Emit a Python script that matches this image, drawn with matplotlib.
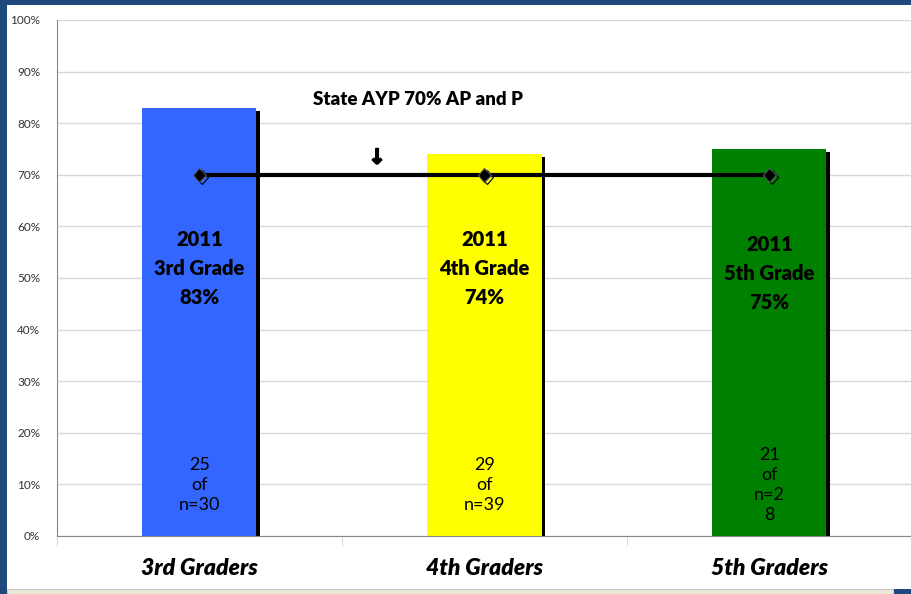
import matplotlib
matplotlib.use('Agg')
import matplotlib.pyplot as plt
import matplotlib.patches as mpatches
import matplotlib.patheffects as pe

plt.rcParams['font.family'] = ['Lato', 'DejaVu Sans']

# Data
categories = ['3rd Graders', '4th Graders', '5th Graders']
values = [83, 74, 75]
bar_colors = ['#3366FF', '#FFFF00', '#008000']
grade_labels = ['2011\n3rd Grade\n83%', '2011\n4th Grade\n74%', '2011\n5th Grade\n75%']
count_labels = ['25\nof\nn=30', '29\nof\nn=39', '21\nof\nn=2\n8']
label_y = [51.8, 51.8, 50.8]
ayp_target = [70, 70, 70]

W, H = 912, 594
fig = plt.figure(figsize=(W / 100, H / 100), dpi=100, facecolor='#1F497D')

# white slide panel + grey bottom strip
fig.patches.append(mpatches.Rectangle((7 / W, 5 / H), 1 - 7 / W, (589 - 5) / H,
                                      transform=fig.transFigure, facecolor='white',
                                      edgecolor='none', zorder=-2))
fig.patches.append(mpatches.Rectangle((7 / W, 0), (893 - 7) / W, 5 / H,
                                      transform=fig.transFigure, facecolor='#ECE9D8',
                                      edgecolor='#C8C8C8', linewidth=0.8, zorder=-2))

ax = fig.add_axes([57 / W, 58 / H, (W - 57) / W, (536 - 20) / H])
ax.set_facecolor('none')
ax.set_zorder(1)

x = list(range(len(categories)))
shadow = [pe.SimplePatchShadow(offset=(2.2, -2.2), shadow_rgbFace='black', alpha=1.0), pe.Normal()]
bars = ax.bar(x, values, width=0.4, color=bar_colors, zorder=2)
for b in bars:
    b.set_path_effects(shadow)

# AYP line
mshadow = [pe.SimpleLineShadow(offset=(1.5, -1.5), shadow_color='black', alpha=1.0), pe.Normal()]
ax.plot(x, ayp_target, color='black', linewidth=3, zorder=3)
ax.plot(x, ayp_target, linestyle='none', marker='D', markersize=7,
        markerfacecolor='black', markeredgecolor='#555566', markeredgewidth=0.8,
        zorder=4, path_effects=mshadow)

for xi, lab, cnt, ly in zip(x, grade_labels, count_labels, label_y):
    ax.text(xi, ly, lab, ha='center', va='center', fontsize=14.5, fontweight='heavy',
            linespacing=1.62, zorder=5)
    ax.text(xi, 9.9, cnt, ha='center', va='center', fontsize=13,
            linespacing=1.3, zorder=5)

ax.text(0.767, 84.5, 'State AYP 70% AP and P', ha='center', va='center',
        fontsize=13.5, fontweight='heavy', zorder=5)
ax.text(0.623, 73.3, '\u2193', ha='center', va='center', fontsize=15,
        fontweight='bold', family='DejaVu Sans', zorder=5,
        path_effects=[pe.withStroke(linewidth=1.2, foreground='black')])

ax.set_xlim(-0.5, 2.5)
ax.set_ylim(0, 100)
ax.set_yticks(range(0, 101, 10))
ax.set_yticklabels([f'{v}%' for v in range(0, 101, 10)], fontsize=8.5, color='#333333')
ax.yaxis.grid(True, color='#D9D9D9', linewidth=1)
ax.set_axisbelow(True)
ax.tick_params(axis='y', length=0, pad=12)

ax.set_xticks([-0.5, 0.5, 1.5])
ax.set_xticklabels([])
ax.set_xticks(x, minor=True)
ax.set_xticklabels(categories, minor=True, fontsize=16.5, fontweight='heavy', style='italic')
ax.tick_params(axis='x', which='major', length=7, color='#DDDDDD', direction='out')
ax.tick_params(axis='x', which='minor', length=0, pad=16)

for s in ['top', 'right']:
    ax.spines[s].set_visible(False)
ax.spines['left'].set_color('#888888')
ax.spines['bottom'].set_color('#888888')

fig.savefig('out.png', dpi=100, facecolor=fig.get_facecolor())
